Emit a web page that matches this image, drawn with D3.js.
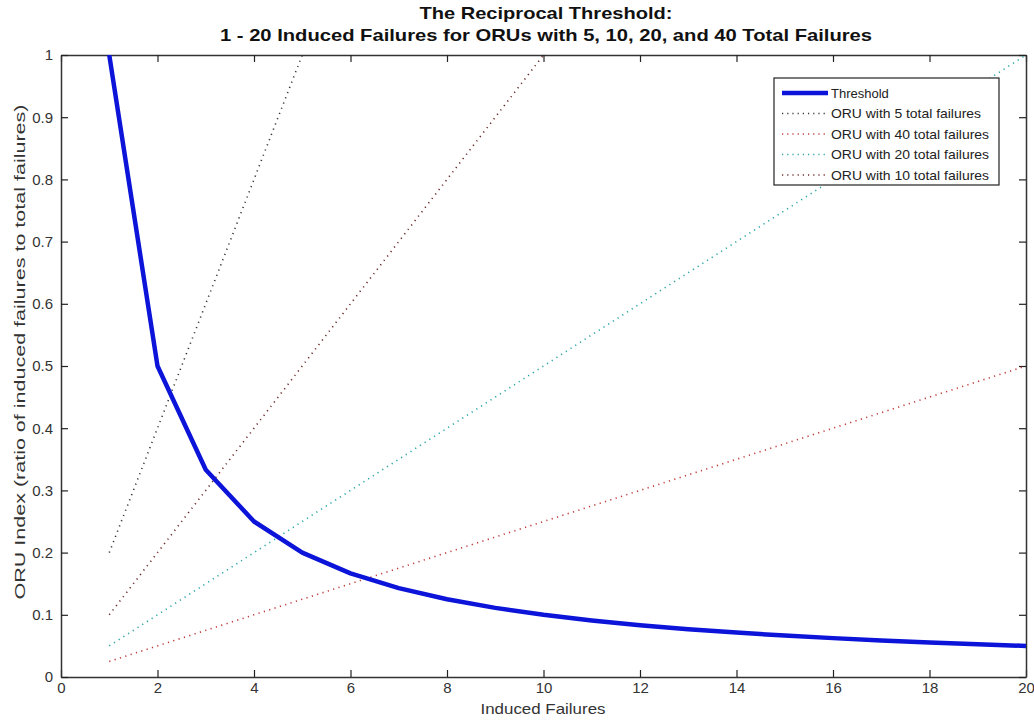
<!DOCTYPE html>
<html><head><meta charset="utf-8">
<script src="https://cdn.jsdelivr.net/npm/d3@7"></script>
<style>body{margin:0;background:#fff;} text{font-family:"Liberation Sans",Arial,sans-serif;}</style>
</head><body>
<svg id="c" width="1034" height="721"></svg>
<script>
const induced = d3.range(1, 21); // 1..20 induced failures
const thresholdValues = [1,0.5,0.3333,0.25,0.2,0.1667,0.1429,0.125,0.1111,0.1,0.0909,0.0833,0.0769,0.0714,0.0667,0.0625,0.0588,0.0556,0.0526,0.05];
const totalFailures = [5, 40, 20, 10];
const seriesNames = ["ORU with 5 total failures","ORU with 40 total failures","ORU with 20 total failures","ORU with 10 total failures"];
const seriesColors = ["#3a3a3a","#c03a3a","#2aa6a6","#6a2a2a"];
const xTicks = [0,2,4,6,8,10,12,14,16,18,20];
const yTicks = [0,0.1,0.2,0.3,0.4,0.5,0.6,0.7,0.8,0.9,1];

const svg = d3.select("#c");
const L=61, R=1026, T=55, B=677;
const x = d3.scaleLinear().domain([0,20]).range([L,R]);
const y = d3.scaleLinear().domain([0,1]).range([B,T]);

svg.append("defs").append("clipPath").attr("id","clip")
  .append("rect").attr("x",L).attr("y",T).attr("width",R-L).attr("height",B-T);

const fmt = d => d===0?"0":(d===1?"1":d3.format(".1f")(d));
const axB = svg.append("g").attr("transform",`translate(0,${B})`)
  .call(d3.axisBottom(x).tickValues(xTicks).tickSizeInner(-7).tickSizeOuter(0).tickPadding(12));
const axT = svg.append("g").attr("transform",`translate(0,${T})`)
  .call(d3.axisTop(x).tickValues(xTicks).tickSizeInner(-7).tickSizeOuter(0).tickFormat(""));
const axL = svg.append("g").attr("transform",`translate(${L},0)`)
  .call(d3.axisLeft(y).tickValues(yTicks).tickSizeInner(-7).tickSizeOuter(0).tickPadding(8).tickFormat(fmt));
const axR = svg.append("g").attr("transform",`translate(${R},0)`)
  .call(d3.axisRight(y).tickValues(yTicks).tickSizeInner(-7).tickSizeOuter(0).tickFormat(""));
[axB,axT,axL,axR].forEach(a=>{
  a.selectAll("path.domain").attr("stroke","#333").attr("stroke-width",1.5);
  a.selectAll(".tick line").attr("stroke","#222").attr("stroke-width",1.2);
  a.selectAll("text").attr("font-size",15).attr("fill","#333");
});
axB.selectAll("text").attr("dy","0.25em");

const plot = svg.append("g").attr("clip-path","url(#clip)");
totalFailures.forEach((tf,i)=>{
  const line = d3.line().x(d=>x(d)).y(d=>y(d/tf));
  plot.append("path").datum(induced).attr("d",line)
    .attr("fill","none").attr("stroke",seriesColors[i]).attr("stroke-width",1.6)
    .attr("stroke-dasharray","1.2,4.4");
});
const thLine = d3.line().x((d,i)=>x(induced[i])).y(d=>y(d));
plot.append("path").datum(thresholdValues).attr("d",thLine)
  .attr("fill","none").attr("stroke","#0b14d8").attr("stroke-width",4.5).attr("stroke-linejoin","round");

const lg = svg.append("g");
lg.append("rect").attr("x",774).attr("y",78).attr("width",225).attr("height",107)
  .attr("fill","#fff").attr("stroke","#222").attr("stroke-width",1.2);
const legItems = [{name:"Threshold",color:"#0b14d8",thick:true}].concat(
  seriesNames.map((n,i)=>({name:n,color:seriesColors[i],thick:false})));
legItems.forEach((it,i)=>{
  const yy = 93 + i*20.5;
  lg.append("line").attr("x1",782).attr("x2",828).attr("y1",yy).attr("y2",yy)
    .attr("stroke",it.color).attr("stroke-width",it.thick?4.5:1.4)
    .attr("stroke-dasharray",it.thick?null:"1.2,4");
  const t = lg.append("text").attr("x",831).attr("y",yy).attr("dy","0.35em")
    .attr("font-size",13).attr("fill","#222").text(it.name);
  if(!it.thick) t.attr("textLength",it.name.indexOf("5 ")>0?150:158).attr("lengthAdjust","spacingAndGlyphs");
});

svg.append("text").attr("x",546).attr("y",19).attr("text-anchor","middle")
  .attr("font-size",17).attr("font-weight","bold").attr("fill","#111")
  .attr("textLength",253).attr("lengthAdjust","spacingAndGlyphs").text("The Reciprocal Threshold:");
svg.append("text").attr("x",546).attr("y",41).attr("text-anchor","middle")
  .attr("font-size",17).attr("font-weight","bold").attr("fill","#111")
  .attr("textLength",652).attr("lengthAdjust","spacingAndGlyphs")
  .text("1 - 20 Induced Failures for ORUs with 5, 10, 20, and 40 Total Failures");
svg.append("text").attr("x",543).attr("y",714).attr("text-anchor","middle")
  .attr("font-size",15).attr("fill","#333")
  .attr("textLength",125).attr("lengthAdjust","spacingAndGlyphs").text("Induced Failures");
svg.append("text").attr("transform",`translate(25,352) rotate(-90)`).attr("text-anchor","middle")
  .attr("font-size",15).attr("fill","#333")
  .attr("textLength",495).attr("lengthAdjust","spacingAndGlyphs")
  .text("ORU Index (ratio of induced failures to total failures)");
</script>
</body></html>
